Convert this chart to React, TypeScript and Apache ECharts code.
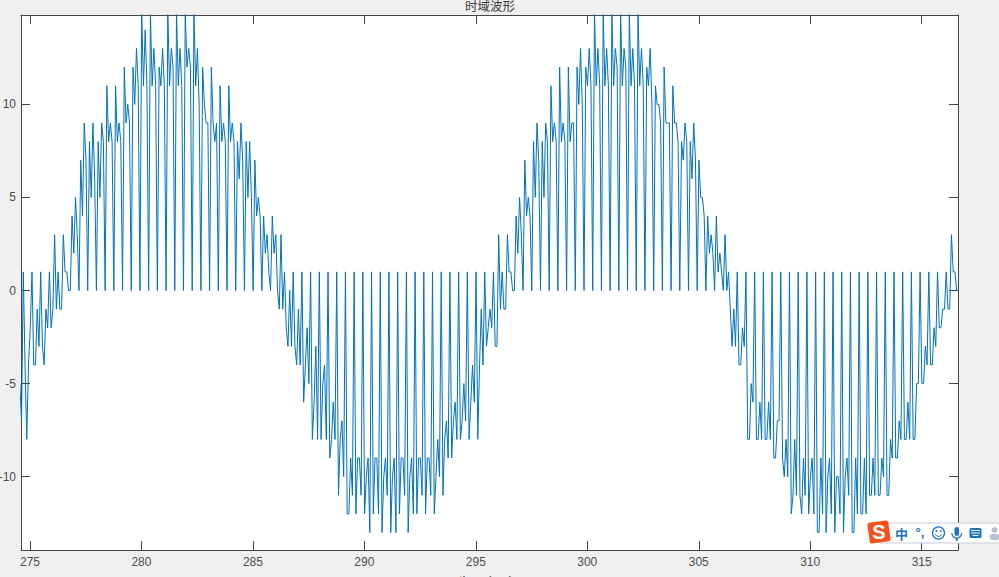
import React, { useEffect, useRef } from "react";
import * as echarts from "echarts";

const titleText = "时域波形";
const xName = "time (ms)";
const xTicks = [275, 280, 285, 290, 295, 300, 305, 310, 315];
const yTicks = [-10, -5, 0, 5, 10];
const xRange = [274.596, 316.63];
const yRange = [-13.94, 14.8];
const firstSampleTime = 274.464;
const sampleStep = 0.07812;

const leadingTrough = [
  -5, -5, -7, 1, -4,
  -8, -4, -2, 1, -4,
  -4, -1, -3, 1, -3,
  -4, -1, -2, 1, -2,
  -1, 3, -1, 1, -1,
  -1, 3, 1, 1, 0,
];
const firstCrest = [
  0, 4, 2, 5, 3,
  0, 7, 4, 9, 7,
  0, 8, 5, 9, 6,
  0, 8, 5, 9, 8,
  0, 11, 8, 9, 8,
  0, 11, 8, 9, 8,
  0, 12, 9, 10, 9,
  0, 12, 10, 13, 11,
  0, 15, 11, 14, 11,
  0, 15, 11, 13, 11,
  0, 12, 11, 13, 11,
  0, 15, 11, 13, 12,
  0, 15, 11, 13, 11,
  0, 15, 12, 13, 12,
  0, 15, 11, 13, 10,
  0, 12, 10, 9, 9,
  0, 12, 9, 8, 9,
  0, 11, 8, 9, 8,
  0, 11, 8, 9, 8,
  0, 8, 6, 9, 7,
  0, 8, 5, 8, 5,
  0, 7, 4, 5, 4,
  0, 4, 2, 3, 1,
  0, 4, 2, 3, 0,
];
const firstTrough = [
  -1, 3, -1, 1, -2,
  -3, 0, -3, 1, -3,
  -4, -1, -4, 1, -6,
  -4, -2, -5, 1, -8,
  -6, -3, -8, 1, -8,
  -5, -4, -8, 1, -9,
  -8, -6, -8, 1, -11,
  -8, -7, -10, 1, -12,
  -12, -9, -11, 1, -12,
  -9, -9, -11, 1, -12,
  -10, -9, -13, 1, -12,
  -9, -9, -12, 1, -13,
  -10, -9, -11, 1, -13,
  -10, -9, -13, 1, -12,
  -9, -9, -11, 1, -13,
  -10, -9, -12, 1, -12,
  -9, -9, -11, 1, -12,
  -9, -9, -11, 1, -12,
  -10, -8, -10, 1, -11,
  -8, -7, -9, 1, -9,
  -7, -6, -8, 1, -8,
  -7, -5, -7, 1, -8,
  -6, -4, -6, 1, -8,
  -4, -1, -4, 1, -3,
  -2, -1, -2, 1, -3,
  -3, 3, -1, 1, -1,
  -1, 3, 1, 1, 0,
];
const secondCrest = [
  0, 4, 2, 5, 3,
  0, 7, 4, 5, 4,
  0, 8, 5, 9, 7,
  0, 8, 5, 9, 8,
  0, 11, 8, 9, 8,
  0, 12, 8, 9, 8,
  0, 12, 8, 9, 9,
  0, 12, 10, 13, 10,
  0, 12, 11, 13, 11,
  0, 15, 11, 13, 11,
  0, 15, 11, 13, 11,
  0, 15, 11, 13, 12,
  0, 15, 11, 13, 12,
  0, 15, 11, 13, 11,
  0, 15, 11, 13, 11,
  0, 12, 11, 13, 10,
  0, 11, 10, 10, 9,
  0, 12, 9, 9, 9,
  0, 11, 9, 9, 8,
  0, 8, 7, 9, 8,
  0, 8, 6, 9, 7,
  0, 7, 5, 5, 4,
  0, 4, 2, 3, 2,
  0, 4, 1, 2, 1,
  0, 3, 0, 1, -1,
];
const secondTrough = [
  -3, -1, -3, 1, -4,
  -4, -2, -3, 1, -8,
  -8, -5, -6, 1, -8,
  -8, -6, -8, 1, -8,
  -8, -6, -8, 1, -9,
  -9, -7, -7, 1, -9,
  -10, -8, -10, 1, -12,
  -11, -8, -11, 1, -11,
  -12, -9, -11, 1, -12,
  -10, -9, -12, 1, -13,
  -13, -9, -12, 1, -13,
  -10, -9, -12, 1, -13,
  -10, -10, -12, 1, -13,
  -10, -9, -11, 1, -13,
  -13, -9, -12, 1, -12,
  -12, -9, -12, 1, -11,
  -11, -9, -11, 1, -11,
  -11, -9, -10, 1, -11,
  -11, -8, -9, 1, -9,
  -9, -7, -8, 1, -8,
  -8, -6, -8, 1, -8,
  -8, -5, -5, 1, -5,
  -5, -3, -4, 1, -4,
  -4, -2, -3, 1, -2,
  -2, -1, -1, 1, -1,
  -1, 3, 1, 1, 0,
  0,
];

const waveform = [...leadingTrough, ...firstCrest, ...firstTrough, ...secondCrest, ...secondTrough];

const axisGrey = "#454545";
const labelGrey = "#4d4d4d";
const lineBlue = "#0072BD";
const imeBlue = "#1b72c0";

const imeToolbar = [
  { type: "rect", shape: { x: 880, y: 523, width: 125, height: 20 }, style: { fill: "#ffffff", stroke: "#c9cedb", lineWidth: 1 }, z: 20 },
  { type: "rect", x: 879, y: 532, originX: 0, originY: 0, rotation: 0.14, shape: { x: -10.5, y: -10.5, width: 21, height: 21, r: 2 }, style: { fill: "#f4511e" }, z: 21 },
  { type: "text", x: 879, y: 532, style: { text: "S", fill: "#ffffff", font: "bold 20px 'Liberation Sans'", textAlign: "center", textVerticalAlign: "middle" }, z: 22 },
  { type: "text", x: 901.5, y: 533, style: { text: "中", fill: imeBlue, font: "bold 13px 'Noto Sans CJK SC'", textAlign: "center", textVerticalAlign: "middle" }, z: 22 },
  { type: "text", x: 920, y: 532, style: { text: "°,", fill: imeBlue, font: "bold 13px 'Liberation Sans'", textAlign: "center", textVerticalAlign: "middle" }, z: 22 },
  { type: "circle", shape: { cx: 938.5, cy: 533, r: 6 }, style: { fill: "#ffffff", stroke: imeBlue, lineWidth: 1.3 }, z: 22 },
  { type: "circle", shape: { cx: 936.3, cy: 531, r: 0.9 }, style: { fill: imeBlue }, z: 23 },
  { type: "circle", shape: { cx: 940.7, cy: 531, r: 0.9 }, style: { fill: imeBlue }, z: 23 },
  { type: "arc", shape: { cx: 938.5, cy: 533, r: 3.4, startAngle: 0.4, endAngle: 2.74 }, style: { stroke: imeBlue, fill: "none", lineWidth: 1 }, z: 23 },
  { type: "rect", shape: { x: 954.5, y: 527, width: 4.6, height: 9, r: 2.3 }, style: { fill: imeBlue }, z: 22 },
  { type: "arc", shape: { cx: 956.8, cy: 533, r: 5, startAngle: 0, endAngle: 3.14 }, style: { stroke: imeBlue, fill: "none", lineWidth: 1.2 }, z: 22 },
  { type: "rect", shape: { x: 955.9, y: 538, width: 1.8, height: 3 }, style: { fill: imeBlue }, z: 22 },
  { type: "rect", shape: { x: 969.5, y: 528, width: 12, height: 10, r: 1.5 }, style: { fill: imeBlue }, z: 22 },
  { type: "rect", shape: { x: 971, y: 530, width: 9, height: 1 }, style: { fill: "#ffffff" }, z: 23 },
  { type: "rect", shape: { x: 971, y: 532.5, width: 9, height: 1 }, style: { fill: "#ffffff" }, z: 23 },
  { type: "rect", shape: { x: 972.5, y: 535, width: 6, height: 1 }, style: { fill: "#ffffff" }, z: 23 },
  { type: "circle", shape: { cx: 994.5, cy: 530, r: 3 }, style: { fill: "#b4c2d4" }, z: 22 },
  { type: "rect", shape: { x: 990, y: 534, width: 9, height: 6, r: 2 }, style: { fill: "#b4c2d4" }, z: 22 },
];

function sideAxis(position: string, range: number[], ticks: number[], withLabels: boolean, labelMargin: number) {
  return {
    type: "value",
    position,
    min: range[0],
    max: range[1],
    splitLine: { show: false },
    axisLine: { show: true, onZero: false, lineStyle: { color: axisGrey, width: 1 } },
    axisTick: { show: true, inside: true, length: 9, customValues: ticks, lineStyle: { color: axisGrey, width: 1 } },
    axisLabel: withLabels
      ? { show: true, customValues: ticks, margin: labelMargin, color: labelGrey, fontSize: 12, fontFamily: "'Liberation Sans'", hideOverlap: false }
      : { show: false },
  };
}

export default function App() {
  const ref = useRef<HTMLDivElement>(null);
  useEffect(() => {
    document.body.style.margin = "0";
    const chart = echarts.init(ref.current!, null, { renderer: "svg" });
    chart.setOption({
      animation: false,
      backgroundColor: "#f0f0f0",
      grid: { left: 21, top: 15, width: 937, height: 535, show: true, backgroundColor: "#ffffff", borderWidth: 0, containLabel: false, outerBoundsMode: "none" },
      xAxis: [sideAxis("bottom", xRange, xTicks, true, 6), sideAxis("top", xRange, xTicks, false, 0)],
      yAxis: [sideAxis("left", yRange, yTicks, true, 5), sideAxis("right", yRange, yTicks, false, 0)],
      series: [
        {
          type: "line",
          xAxisIndex: 0,
          yAxisIndex: 0,
          showSymbol: false,
          clip: true,
          silent: true,
          lineStyle: { color: lineBlue, width: 1 },
          data: waveform.map((v, i) => [firstSampleTime + i * sampleStep, v]),
        },
      ],
      graphic: [
        { type: "text", x: 490, y: 5, style: { text: titleText, fill: "#3c3c3c", font: "12.5px 'Noto Sans CJK SC'", textAlign: "center", textVerticalAlign: "middle" } },
        { type: "text", x: 486, y: 580, style: { text: xName, fill: "#3c3c3c", font: "13px 'Liberation Sans'", textAlign: "center", textVerticalAlign: "middle" } },
        ...imeToolbar,
      ],
    });
    return () => chart.dispose();
  }, []);
  return <div ref={ref} style={{ width: 999, height: 577, overflow: "hidden" }} />;
}
